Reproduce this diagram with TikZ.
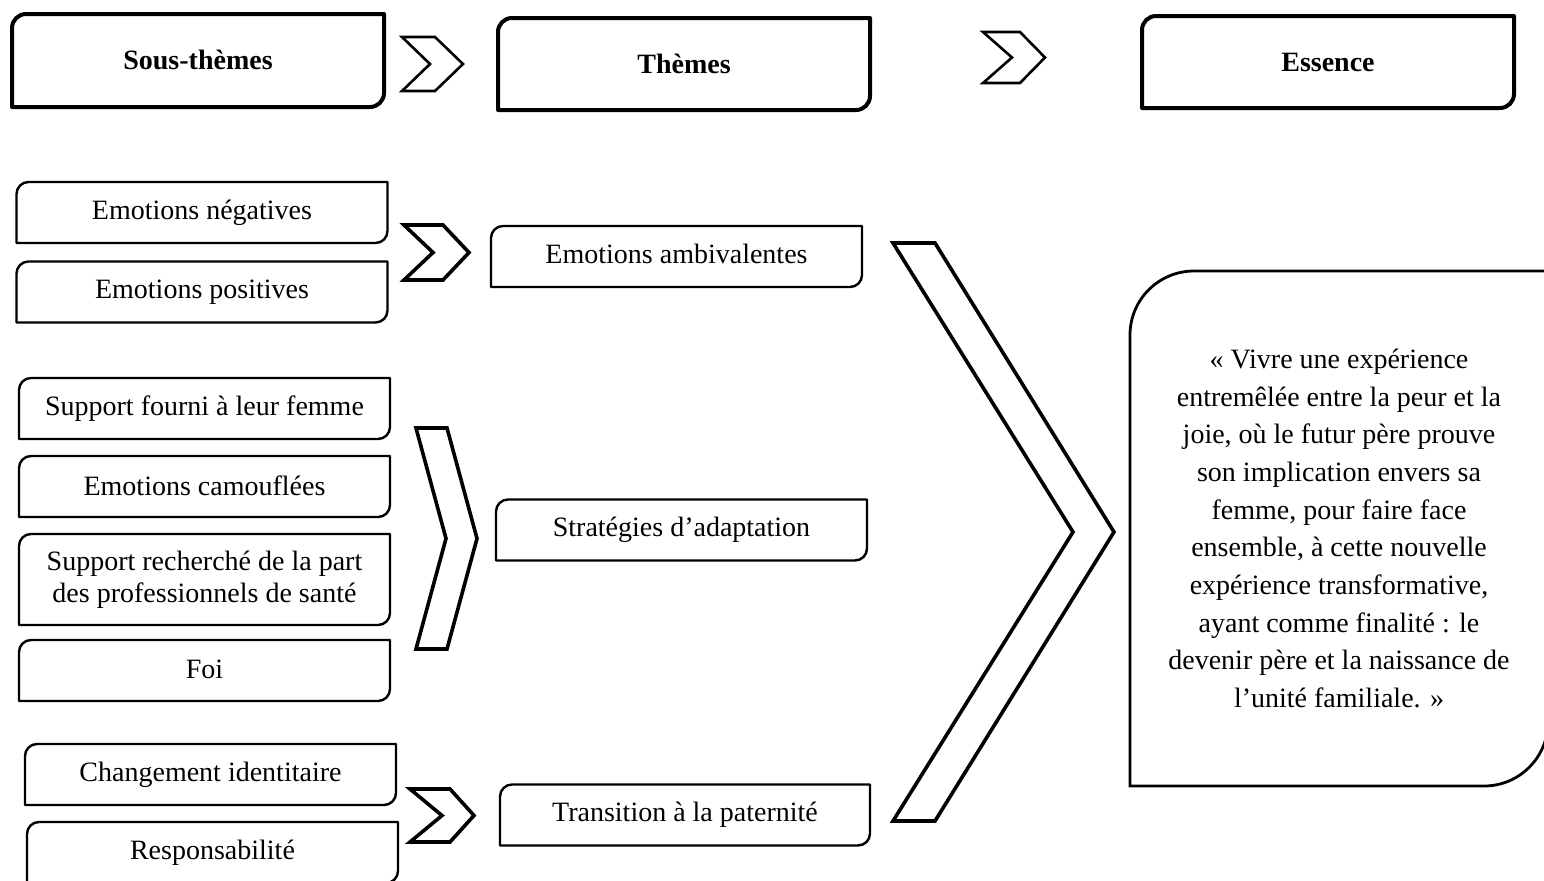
\documentclass[tikz,border=0pt]{standalone}
\usepackage{fontspec}
\setmainfont{Liberation Serif}
\usetikzlibrary{calc}
\newcommand\cbox[3]{%
  \draw[#3] (#1.south west) -- ([yshift=-#2]#1.north west)
    arc[start angle=180,end angle=90,radius=#2] -- (#1.north east)
    -- ([yshift=#2]#1.south east)
    arc[start angle=0,end angle=-90,radius=#2] -- cycle;}
% chevron: left x, top-right x, tip x, notch x, top y, bottom y
\newcommand\chev[7]{%
  \draw[#7] (#1,#5) -- (#2,#5) -- (#3,{(#5+#6)/2}) -- (#2,#6) -- (#1,#6)
    -- (#4,{(#5+#6)/2}) -- cycle;}
\tikzset{
  txt/.style={inner sep=0pt, outer sep=0pt, align=center,
    font=\fontsize{14}{16}\selectfont},
  subbox/.style={txt, minimum width=185.5pt, minimum height=30.5pt},
  headbox/.style={txt, minimum width=186pt, minimum height=46.5pt,
    font=\bfseries\fontsize{14}{16}\selectfont},
  thinline/.style={line width=1.2pt, line join=round},
  thickline/.style={line width=2pt, line join=round},
  chevthin/.style={line width=1.3pt, line join=miter},
  chevthick/.style={line width=1.8pt, line join=miter},
}
\begin{document}
\begin{tikzpicture}[x=0.5pt,y=-0.5pt]
\useasboundingbox (0,0) rectangle (1544,880);
\clip (0,0) rectangle (1544,880);
\fill[white] (0,0) rectangle (1544,880);

% header
\node[headbox] (h1) at (198,60.5) {\raisebox{0.5pt}{Sous-thèmes}};
\node[headbox, minimum height=46pt] (h2) at (684,64) {Thèmes};
\node[headbox, minimum height=46pt] (h3) at (1328,62) {Essence};
\cbox{h1}{7pt}{thickline}
\cbox{h2}{7pt}{thickline}
\cbox{h3}{7pt}{thickline}
\chev{402}{435}{463}{430}{37}{91}{chevthin}
\chev{983}{1020}{1045}{1012}{32}{83}{chevthin}

% group 1
\node[subbox] (neg) at (202,212.5) {\raisebox{0.5pt}{Emotions négatives}};
\node[subbox] (pos) at (202,292) {\raisebox{0.5pt}{Emotions positives}};
\node[subbox] (amb) at (676.5,256.5) {\raisebox{3pt}{Emotions ambivalentes}};
\cbox{neg}{6pt}{thinline}
\cbox{pos}{6pt}{thinline}
\cbox{amb}{6pt}{thinline}
\chev{404}{443}{469}{433}{225}{280}{chevthick}

% group 2
\node[subbox] (sup) at (204.5,408.5) {\raisebox{1pt}{Support fourni à leur femme}};
\node[subbox] (cam) at (204.5,486.5) {\raisebox{1pt}{Emotions camouflées}};
\node[subbox, minimum height=45.5pt] (rec) at (204.5,579.5)
  {Support recherché de la part\\des professionnels de santé};
\node[subbox] (foi) at (204.5,670.5) {\raisebox{1pt}{Foi}};
\node[subbox] (str) at (681.5,530) {Stratégies d’adaptation};
\cbox{sup}{6pt}{thinline}
\cbox{cam}{6pt}{thinline}
\cbox{rec}{6pt}{thinline}
\cbox{foi}{6pt}{thinline}
\cbox{str}{6pt}{thinline}
\chev{416}{447}{477}{446}{428}{649}{chevthick}

% group 3
\node[subbox] (chg) at (210.5,774.5) {\raisebox{0.5pt}{Changement identitaire}};
\node[subbox] (res) at (212.5,852.5) {Responsabilité};
\node[subbox, minimum width=185pt] (tra) at (685,815) {\raisebox{1pt}{Transition à la paternité}};
\cbox{chg}{6pt}{thinline}
\cbox{res}{6pt}{thinline}
\cbox{tra}{6pt}{thinline}
\chev{410}{450}{474}{442}{789}{842}{chevthick}

% big chevron
\chev{893}{935}{1114}{1073}{243}{821}{chevthick}

% essence box
\node[txt, minimum width=209pt, minimum height=257.5pt,
  font=\fontsize{14}{18.85}\selectfont] (ess) at (1339,528.5)
  {« Vivre une expérience\\
   entremêlée entre la peur et la\\
   joie, où le futur père prouve\\
   son implication envers sa\\
   femme, pour faire face\\
   ensemble, à cette nouvelle\\
   expérience transformative,\\
   ayant comme finalité : le\\
   devenir père et la naissance de\\
   l’unité familiale. »};
\cbox{ess}{32pt}{line width=1.4pt}
\end{tikzpicture}
\end{document}
